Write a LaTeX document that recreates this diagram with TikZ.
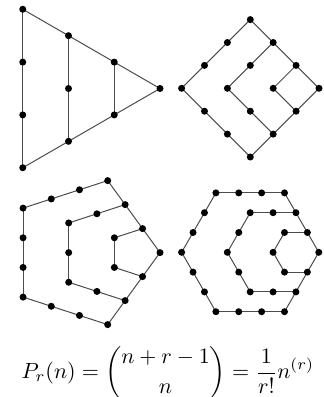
\documentclass[tikz,border=0pt]{standalone}
\usepackage{amsmath}
\usetikzlibrary{calc}
\tikzset{
  dot/.style={circle,fill=black,inner sep=0pt,minimum size=7pt},
  edge/.style={draw=black!70,line width=1pt},
}
\newcommand\polyfig[5]{%
  \pgfmathtruncatemacro\pfnm{#5-1}%
  \pgfmathtruncatemacro\pfnn{#5-2}%
  \coordinate (#1-c) at (#2,#3);
  \foreach \i in {0,...,\pfnm}{
    \coordinate (#1-v\i) at ($(#1-c)+({360*\i/#5}:#4)$);
  }
  \foreach \k in {1,2,3}{
    \foreach \i in {0,...,\pfnm}{
      \coordinate (#1-\k-\i) at ($(#1-v0)!{\k/3}!(#1-v\i)$);
    }
  }
  \foreach \i in {0,...,\pfnm}{
    \pgfmathtruncatemacro\j{mod(\i+1,#5)}
    \draw[edge] (#1-3-\i) -- (#1-3-\j);
  }
  \foreach \k in {1,2}{
    \foreach \i in {1,...,\pfnn}{
      \pgfmathtruncatemacro\j{\i+1}
      \draw[edge] (#1-\k-\i) -- (#1-\k-\j);
    }
  }
  \foreach \i in {0,...,\pfnm}{
    \pgfmathtruncatemacro\j{mod(\i+1,#5)}
    \node[dot] (#1-o\i) at (#1-3-\i) {};
    \node[dot] (#1-o\i-a) at ($(#1-3-\i)!{1/3}!(#1-3-\j)$) {};
    \node[dot] (#1-o\i-b) at ($(#1-3-\i)!{2/3}!(#1-3-\j)$) {};
  }
  \foreach \i in {1,...,\pfnn}{
    \pgfmathtruncatemacro\j{\i+1}
    \node[dot] (#1-m\i) at ($(#1-2-\i)!0.5!(#1-2-\j)$) {};
  }
  \ifnum#5>3
  \foreach \i in {2,...,\pfnn}{
    \node[dot] (#1-mv\i) at (#1-2-\i) {};
    \node[dot] (#1-iv\i) at (#1-1-\i) {};
  }
  \fi
}
\begin{document}
\begin{tikzpicture}[x=1pt,y=-1pt]
\useasboundingbox (0,0) rectangle (324,397);
\polyfig{tri}{68.5}{88.5}{91.5}{3}
\polyfig{sq}{250.3}{88.3}{68.7}{4}
\polyfig{pent}{84.3}{252.6}{75.7}{5}
\polyfig{hex}{250.2}{252.3}{68.6}{6}
\node[anchor=base,scale=2.2,inner sep=0pt] (formula) at (167.8,378.5)
  {$\displaystyle P_r(n)=\binom{n+r-1}{n}=\frac{1}{r!}n^{(r)}$};
\end{tikzpicture}
\end{document}
